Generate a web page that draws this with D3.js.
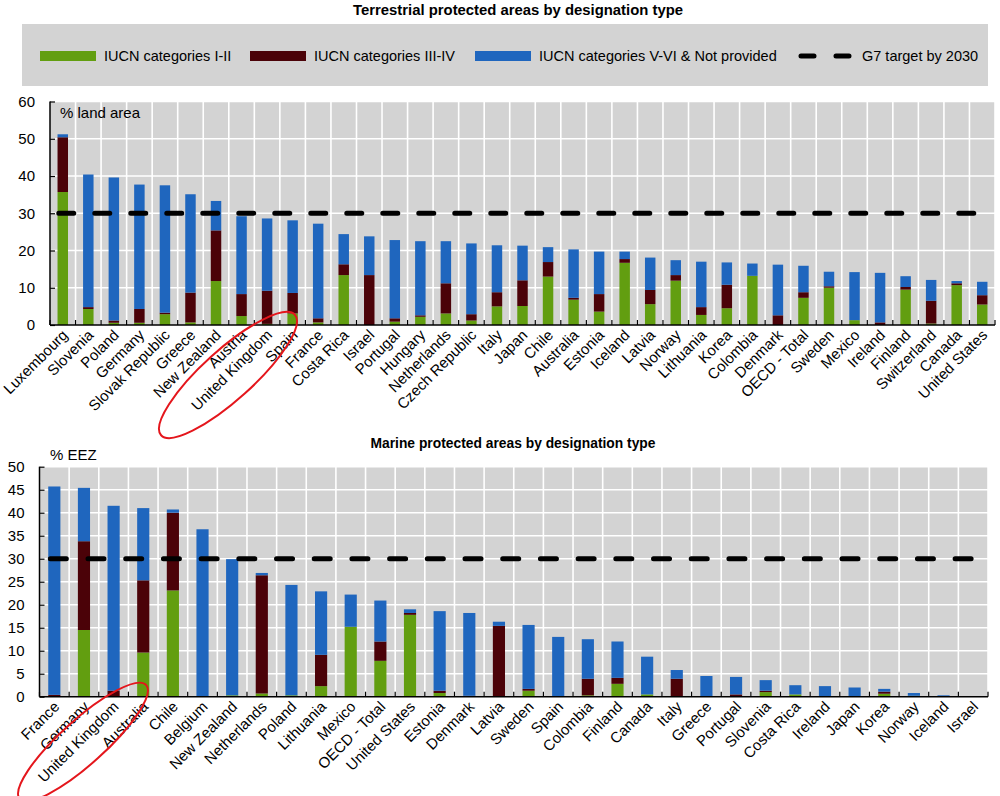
<!DOCTYPE html>
<html><head><meta charset="utf-8">
<script src="https://cdn.jsdelivr.net/npm/d3@7"></script>
<style>
body{margin:0;background:#fff;}
svg text{font-family:"Liberation Sans",Arial,sans-serif;fill:#000;}
</style></head>
<body><svg id="c" width="1000" height="796"></svg>
<script>
// ---------- DATA ----------
const seriesNames = ["IUCN categories I-II","IUCN categories III-IV","IUCN categories V-VI & Not provided"];
const targetLabel = "G7 target by 2030";
const targetValue = 30;

const terrCountries = ["Luxembourg","Slovenia","Poland","Germany","Slovak Republic","Greece","New Zealand","Austria","United Kingdom","Spain","France","Costa Rica","Israel","Portugal","Hungary","Netherlands","Czech Republic","Italy","Japan","Chile","Australia","Estonia","Iceland","Latvia","Norway","Lithuania","Korea","Colombia","Denmark","OECD - Total","Sweden","Mexico","Ireland","Finland","Switzerland","Canada","United States"];
const terrI_II   = [35.7,4.3,0.6,0.6,2.9,0.7,11.8,2.4,0.3,3.1,0.7,13.4,0,0.9,2.2,3.1,1.2,5.0,5.1,13.0,6.8,3.6,16.7,5.6,11.9,2.7,4.5,13.2,0,7.3,10.0,1.3,0,9.5,0.4,10.7,5.5];
const terrIII_IV = [14.7,0.5,0.6,3.7,0.4,8.0,13.6,5.9,8.9,5.5,1.1,2.9,13.4,0.9,0.4,8.1,1.7,3.8,6.9,3.9,0.5,4.7,1.0,3.8,1.5,2.1,6.3,0,2.6,1.5,0.4,0,0.7,0.7,6.1,0.5,2.5];
const terrV_VI   = [0.8,35.6,38.4,33.4,34.2,26.4,7.9,20.9,19.4,19.5,25.4,8.1,10.4,21.0,19.9,11.3,19.0,12.6,9.3,4.0,13.0,11.4,2.0,8.7,4.0,12.2,6.0,3.3,13.6,7.1,3.9,12.9,13.3,2.9,5.6,0.6,3.6];
const terrTicks  = [0,10,20,30,40,50,60];

const marCountries = ["France","Germany","United Kingdom","Australia","Chile","Belgium","New Zealand","Netherlands","Poland","Lithuania","Mexico","OECD - Total","United States","Estonia","Denmark","Latvia","Sweden","Spain","Colombia","Finland","Canada","Italy","Greece","Portugal","Slovenia","Costa Rica","Ireland","Japan","Korea","Norway","Iceland","Israel"];
const marI_II   = [0,14.5,0,9.6,23.1,0,0.3,0.7,0.3,2.3,15.2,7.8,17.8,0.8,0,0,1.3,0,0.3,2.8,0.5,0,0,0.1,1.0,0.5,0,0,0.65,0.2,0,0];
const marIII_IV = [0.4,19.3,1.3,15.7,16.9,0,0,25.7,0,6.8,0,4.2,0.4,0.5,0.2,15.4,0.4,0.1,3.6,1.3,0,3.9,0,0.4,0.3,0,0,0,0.45,0,0,0];
const marV_VI   = [45.3,11.6,40.2,15.7,0.7,36.4,29.6,0.5,24.0,13.8,7.0,8.9,0.8,17.3,18.0,0.9,13.9,12.9,8.6,7.9,8.2,1.9,4.5,3.8,2.3,2.0,2.3,2.0,0.6,0.6,0.3,0];
const marTicks  = [0,5,10,15,20,25,30,35,40,45,50];

// ---------- STYLE ----------
const colors = ["#629e10","#4b0208","#1f66be"];
const bg = "#d3d3d3";
const svg = d3.select("#c");

function panel(cfg){
  const keys = ["a","b","c"];
  const rows = cfg.countries.map((c,i)=>({name:c,a:cfg.s1[i],b:cfg.s2[i],c:cfg.s3[i]}));
  const stack = d3.stack().keys(keys)(rows);
  const x = d3.scaleBand().domain(cfg.countries).range([cfg.x0,cfg.x1]).paddingInner(0).paddingOuter(0);
  const y = d3.scaleLinear().domain([0,cfg.max]).range([cfg.y0,cfg.y1]);
  const g = svg.append("g");
  g.append("rect").attr("x",cfg.x0).attr("y",cfg.y1).attr("width",cfg.x1-cfg.x0).attr("height",cfg.y0-cfg.y1).attr("fill",bg);
  // grid
  g.selectAll(".hg").data(cfg.ticks.filter(t=>t>0)).join("line")
    .attr("x1",cfg.x0).attr("x2",cfg.x1).attr("y1",d=>y(d)).attr("y2",d=>y(d))
    .attr("stroke","#fff").attr("stroke-width",1.6);
  const bounds = cfg.countries.map(c=>x(c)+x.bandwidth());
  g.selectAll(".vg").data(bounds).join("line")
    .attr("x1",d=>d).attr("x2",d=>d).attr("y1",cfg.y1).attr("y2",cfg.y0)
    .attr("stroke","#fff").attr("stroke-width",1.6);
  // bars
  const bw = x.bandwidth()*0.41;
  stack.forEach((s,k)=>{
    g.selectAll(null).data(s).join("rect")
      .attr("x",d=>x(d.data.name)+x.bandwidth()/2-bw/2)
      .attr("width",bw)
      .attr("y",d=>y(d[1]))
      .attr("height",d=>Math.max(0,y(d[0])-y(d[1])))
      .attr("fill",colors[k]);
  });
  // target line
  const first = x(cfg.countries[0])+x.bandwidth()/2, last = x(cfg.countries[cfg.countries.length-1])+x.bandwidth()/2;
  g.append("line").attr("x1",first-4).attr("x2",last).attr("y1",y(targetValue)).attr("y2",y(targetValue))
    .attr("stroke","#000").attr("stroke-width",5).attr("stroke-linecap","round").attr("stroke-dasharray",cfg.dash);
  // x axis
  g.append("line").attr("x1",cfg.x0).attr("x2",cfg.x1).attr("y1",cfg.y0).attr("y2",cfg.y0).attr("stroke","#000").attr("stroke-width",1.5);
  g.selectAll(".xt").data([cfg.x0].concat(bounds)).join("line")
    .attr("x1",d=>d).attr("x2",d=>d).attr("y1",cfg.y0).attr("y2",cfg.y0-5).attr("stroke","#000").attr("stroke-width",1.2);
  g.selectAll(".xl").data(cfg.countries).join("text")
    .attr("transform",d=>`translate(${x(d)+x.bandwidth()/2+6},${cfg.y0+11}) rotate(-45)`)
    .attr("text-anchor","end").attr("font-size","15px").text(d=>d);
  // y axis
  const ya = d3.axisLeft(y).tickValues(cfg.ticks).tickSize(-5).tickPadding(15);
  const yg = g.append("g").attr("transform",`translate(${cfg.x0},0)`).call(ya);
  yg.select(".domain").attr("stroke","#000").attr("stroke-width",1.5).attr("d",`M0,${cfg.y0}V${cfg.y1}`);
  yg.selectAll(".tick line").attr("stroke","#000").attr("stroke-width",1.2);
  yg.selectAll(".tick text").attr("font-size","15px").attr("font-family","Liberation Sans, Arial, sans-serif");
  // unit + title
  g.append("text").attr("x",cfg.unitX).attr("y",cfg.unitY).attr("font-size","15px").text(cfg.unit);
  g.append("text").attr("x",cfg.titleX).attr("y",cfg.titleY).attr("text-anchor","middle")
    .attr("font-size","15.5px").attr("font-weight","bold")
    .attr("font-family","'Liberation Sans Narrow','Arial Narrow','Liberation Sans',sans-serif")
    .attr("textLength",cfg.titleW).attr("lengthAdjust","spacingAndGlyphs").text(cfg.title);
}

panel({countries:terrCountries,s1:terrI_II,s2:terrIII_IV,s3:terrV_VI,ticks:terrTicks,max:60,
  x0:50,x1:995,y0:325,y1:101.5,dash:"15,21",unit:"% land area",unitX:60,unitY:118,
  title:"Terrestrial protected areas by designation type",titleY:15,titleX:518,titleW:330});
panel({countries:marCountries,s1:marI_II,s2:marIII_IV,s3:marV_VI,ticks:marTicks,max:50,
  x0:39.5,x1:988,y0:696.7,y1:466.7,dash:"16,21.7",unit:"% EEZ",unitX:50,unitY:460,
  title:"Marine protected areas by designation type",titleY:448,titleX:513,titleW:285});

// legend
const lg = svg.append("g");
lg.append("rect").attr("x",22).attr("y",24).attr("width",966).attr("height",62).attr("fill",bg);
const items = [{x:40,t:seriesNames[0],c:colors[0]},{x:250,t:seriesNames[1],c:colors[1]},{x:475,t:seriesNames[2],c:colors[2]}];
items.forEach(it=>{
  lg.append("rect").attr("x",it.x).attr("y",51).attr("width",56).attr("height",10).attr("fill",it.c);
  lg.append("text").attr("x",it.x+64).attr("y",61).attr("font-size","14.5px").text(it.t);
});
lg.append("line").attr("x1",801).attr("x2",851).attr("y1",56).attr("y2",56).attr("stroke","#000")
  .attr("stroke-width",5).attr("stroke-linecap","round").attr("stroke-dasharray","13,22");
lg.append("text").attr("x",862).attr("y",61).attr("font-size","14.5px").text(targetLabel);

// red annotation ellipses
svg.append("ellipse").attr("cx",0).attr("cy",0).attr("rx",90).attr("ry",25)
  .attr("transform","translate(228,375) rotate(-42)").attr("fill","none").attr("stroke","#e4161c").attr("stroke-width",2);
svg.append("ellipse").attr("cx",0).attr("cy",0).attr("rx",85).attr("ry",22)
  .attr("transform","translate(83,742) rotate(-42)").attr("fill","none").attr("stroke","#e4161c").attr("stroke-width",2);
</script></body></html>
